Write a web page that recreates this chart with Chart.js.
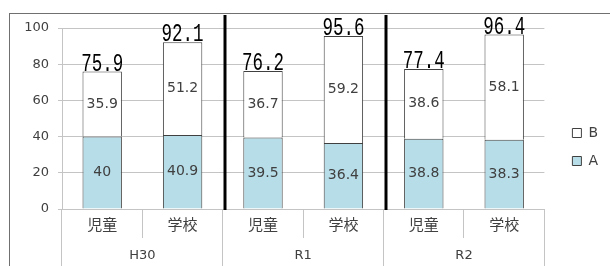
<!DOCTYPE html>
<html lang="ja">
<head>
  <meta charset="utf-8">
  <title>児童・学校</title>
  <script src="https://cdn.jsdelivr.net/npm/chart.js"></script>
  <style>
    body { margin: 0; background: #fff; }
    #wrap { width: 610px; height: 266px; }
  </style>
</head>
<body>
  <div id="wrap"><canvas id="myChart" width="610" height="266"></canvas></div>
  <script>
    // data
    const subLabels = ['児童', '学校', '児童', '学校', '児童', '学校'];
    const groupLabels = ['H30', 'R1', 'R2'];
    const seriesA = [40, 40.9, 39.5, 36.4, 38.8, 38.3];
    const seriesB = [35.9, 51.2, 36.7, 59.2, 38.6, 58.1];
    const totals = ['75.9', '92.1', '76.2', '95.6', '77.4', '96.4'];
    const yTicks = [0, 20, 40, 60, 80, 100];

    const gridColor = '#c4c4c4';
    const textColor = '#404040';

    // frame, value labels, group dividers
    const extras = {
      id: 'extras',
      beforeDraw(chart) {
        const ctx = chart.ctx;
        ctx.save();
        ctx.fillStyle = '#fff';
        ctx.fillRect(0, 0, chart.width, chart.height);
        ctx.strokeStyle = '#707070';
        ctx.lineWidth = 1;
        ctx.strokeRect(9.5, 13.5, 700, 300);
        ctx.restore();
      },
      afterDatasetsDraw(chart) {
        const ctx = chart.ctx;
        ctx.save();
        ctx.fillStyle = textColor;
        ctx.font = '14px "DejaVu Sans"';
        ctx.textAlign = 'center';
        ctx.textBaseline = 'middle';
        chart.data.datasets.forEach((ds, di) => {
          chart.getDatasetMeta(di).data.forEach((bar, i) => {
            const mid = (bar.y + bar.base) / 2;
            ctx.fillText(String(ds.data[i]), bar.x, mid);
          });
        });
        // totals on top of each bar
        const top = chart.getDatasetMeta(1).data;
        ctx.fillStyle = '#000';
        ctx.font = '25px "Liberation Mono"';
        ctx.textBaseline = 'alphabetic';
        top.forEach((bar, i) => {
          ctx.save();
          ctx.translate(bar.x, bar.y - 1);
          ctx.scale(0.7, 1);
          ctx.fillText(totals[i], 0, 0);
          ctx.restore();
        });
        ctx.restore();
      },
      afterDraw(chart) {
        const ctx = chart.ctx;
        const x = chart.scales.x;
        const area = chart.chartArea;
        const step = x.getPixelForValue(1) - x.getPixelForValue(0);
        ctx.save();
        ctx.strokeStyle = '#000';
        ctx.lineWidth = 3;
        [2, 4].forEach(k => {
          const px = Math.round(x.getPixelForValue(k) - step / 2) + 2;
          ctx.beginPath();
          ctx.moveTo(px, 15);
          ctx.lineTo(px, area.bottom + 1);
          ctx.stroke();
        });
        ctx.restore();
      }
    };

    const ctx = document.getElementById('myChart').getContext('2d');
    new Chart(ctx, {
      type: 'bar',
      data: {
        labels: subLabels,
        datasets: [
          {
            label: 'A',
            data: seriesA,
            backgroundColor: '#b6dde8',
            borderColor: '#404040',
            borderWidth: 1
          },
          {
            label: 'B',
            data: seriesB,
            backgroundColor: '#ffffff',
            borderColor: '#404040',
            borderWidth: 1
          }
        ]
      },
      options: {
        responsive: false,
        animation: false,
        layout: { padding: { top: 28, left: 0, right: 2, bottom: 0 } },
        datasets: { bar: { categoryPercentage: 1, barPercentage: 0.49 } },
        plugins: {
          tooltip: { enabled: false },
          legend: {
            position: 'right',
            reverse: true,
            labels: {
              boxWidth: 9,
              boxHeight: 9,
              padding: 14,
              color: textColor,
              font: { family: '"DejaVu Sans"', size: 14 },
              generateLabels(chart) {
                return chart.data.datasets.map((ds, i) => ({
                  text: ds.label,
                  fillStyle: ds.backgroundColor,
                  strokeStyle: '#404040',
                  lineWidth: 1,
                  fontColor: textColor,
                  datasetIndex: i
                }));
              }
            }
          }
        },
        scales: {
          x: {
            stacked: true,
            afterFit(axis) { axis.height = 29; },
            border: { display: true, color: gridColor },
            grid: {
              offset: true,
              drawOnChartArea: false,
              drawTicks: true,
              tickLength: 29,
              color: gridColor
            },
            ticks: {
              color: textColor,
              padding: -23,
              font: { family: '"Noto Sans CJK JP"', size: 15 }
            }
          },
          x2: {
            type: 'category',
            labels: groupLabels,
            position: 'bottom',
            offset: true,
            afterFit(axis) { axis.height = 28; },
            border: { display: false },
            grid: {
              offset: true,
              drawOnChartArea: false,
              drawTicks: true,
              tickLength: 28,
              color: gridColor
            },
            ticks: {
              color: textColor,
              padding: -18,
              font: { family: '"DejaVu Sans"', size: 13 }
            }
          },
          y: {
            stacked: true,
            min: 0,
            max: 100,
            afterFit(axis) { axis.width = 62; },
            afterBuildTicks(axis) { axis.ticks = yTicks.map(v => ({ value: v })); },
            border: { display: true, color: gridColor },
            grid: { color: gridColor, tickLength: 4 },
            ticks: {
              color: textColor,
              padding: 9,
              font: { family: '"DejaVu Sans"', size: 13 }
            }
          },
          // empty spacer between plot and legend
          gap: {
            type: 'linear',
            position: 'right',
            afterFit(axis) { axis.width = 14; },
            border: { display: false },
            grid: { display: false },
            ticks: { display: false }
          }
        }
      },
      plugins: [extras]
    });
  </script>
</body>
</html>
